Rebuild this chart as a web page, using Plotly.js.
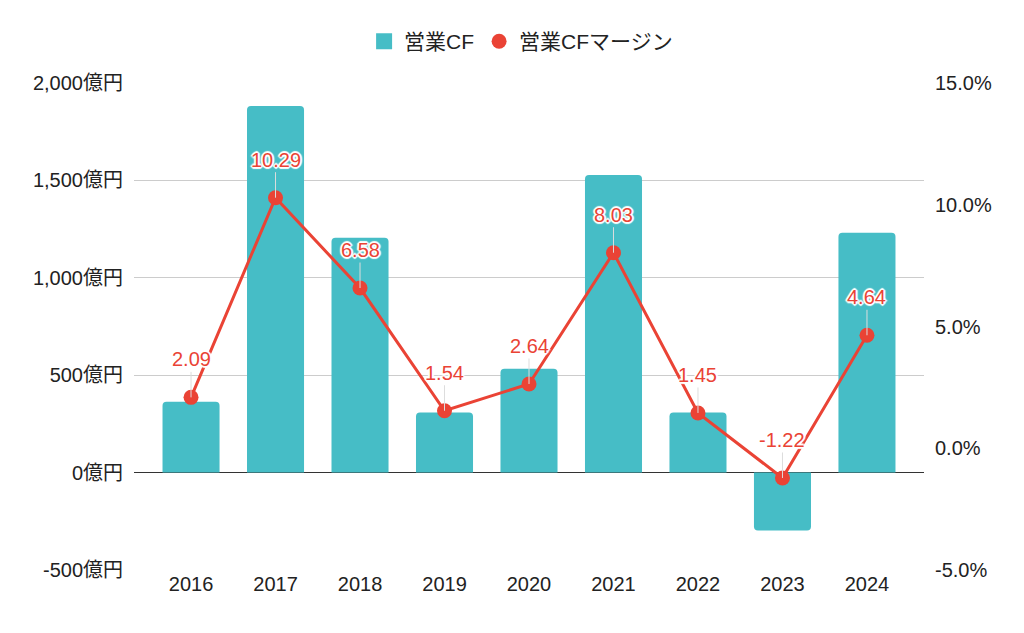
<!DOCTYPE html>
<html><head><meta charset="utf-8">
<script src="https://cdn.plot.ly/plotly-3.0.1.min.js"></script>
<style>html,body{margin:0;padding:0;background:#fff}#c{width:1024px;height:633px}</style>
</head><body><div id="c"></div>
<script>
const years = ['2016','2017','2018','2019','2020','2021','2022','2023','2024'];
const cf = [364, 1882, 1205, 308, 533, 1528, 308, -297, 1231];
const margin = [2.09, 10.29, 6.58, 1.54, 2.64, 8.03, 1.45, -1.22, 4.64];
const barName = '営業CF';
const lineName = '営業CFマージン';
const leftTicks = [-500, 0, 500, 1000, 1500, 2000];
const rightTicks = [-5, 0, 5, 10, 15];

const FONT = 'Liberation Sans, Arial, "Noto Sans CJK JP", sans-serif';
const TEAL = '#46BDC6', RED = '#EA4335';

const traces = [
  {type:'bar', x:years, y:cf, name:barName, marker:{color:TEAL, cornerradius:4}, showlegend:false, hoverinfo:'skip'},
  {type:'scatter', mode:'markers', x:[null], y:[null], name:barName, marker:{color:TEAL, size:18, symbol:'square'}, hoverinfo:'skip'},
  {type:'scatter', mode:'lines', x:years, y:margin, yaxis:'y2', line:{color:RED, width:3}, showlegend:false, hoverinfo:'skip'},
  {type:'scatter', mode:'markers', x:years, y:margin, yaxis:'y2', name:lineName, marker:{color:RED, size:15}, hoverinfo:'skip'}
];

const sh = '1px 1px 1px #fff, -1px -1px 1px #fff, 1px -1px 1px #fff, -1px 1px 1px #fff, 0 2px 1px #fff, 0 -2px 1px #fff, 2px 0 1px #fff, -2px 0 1px #fff';
const annotations = years.map((yr, i) => ({
  x: i, y: margin[i], xref:'x', yref:'y2', text: margin[i].toFixed(2),
  showarrow:true, arrowhead:0, arrowwidth:1, arrowcolor:'#dddddd', ax:0, ay:-38, standoff:0,
  font:{family:FONT, size:20, color:RED, shadow:sh}
}));

const layout = {
  width:1024, height:633,
  margin:{l:134, r:100, t:83, b:63},
  paper_bgcolor:'#fff', plot_bgcolor:'#fff',
  font:{family:FONT, size:20, color:'#222'},
  bargap:0.325,
  showlegend:true,
  legend:{orientation:'h', x:0.49, xanchor:'center', y:1.085, yanchor:'middle', font:{size:21, color:'#222'},
    itemsizing:'trace'},
  xaxis:{type:'category', range:[-0.675, 8.675], showgrid:false, ticks:'', tickfont:{size:20, color:'#222'}, fixedrange:true},
  yaxis:{range:[-500, 2000], tickvals:leftTicks, ticktext:leftTicks.map(v => v.toLocaleString('en-US') + '億円'),
    showgrid:true, gridcolor:'#cccccc', gridwidth:1, zeroline:true, zerolinecolor:'#333333', zerolinewidth:1,
    ticks:'', ticklabelstandoff:10, tickfont:{size:20, color:'#222'}},
  yaxis2:{overlaying:'y', side:'right', range:[-5, 15], tickvals:rightTicks, ticktext:rightTicks.map(v => v.toFixed(1) + '%'),
    showgrid:false, zeroline:false, ticks:'', ticklabelstandoff:10, tickfont:{size:20, color:'#222'}},
  annotations: annotations
};

Plotly.newPlot('c', traces, layout, {staticPlot:true, displayModeBar:false});
</script></body></html>
